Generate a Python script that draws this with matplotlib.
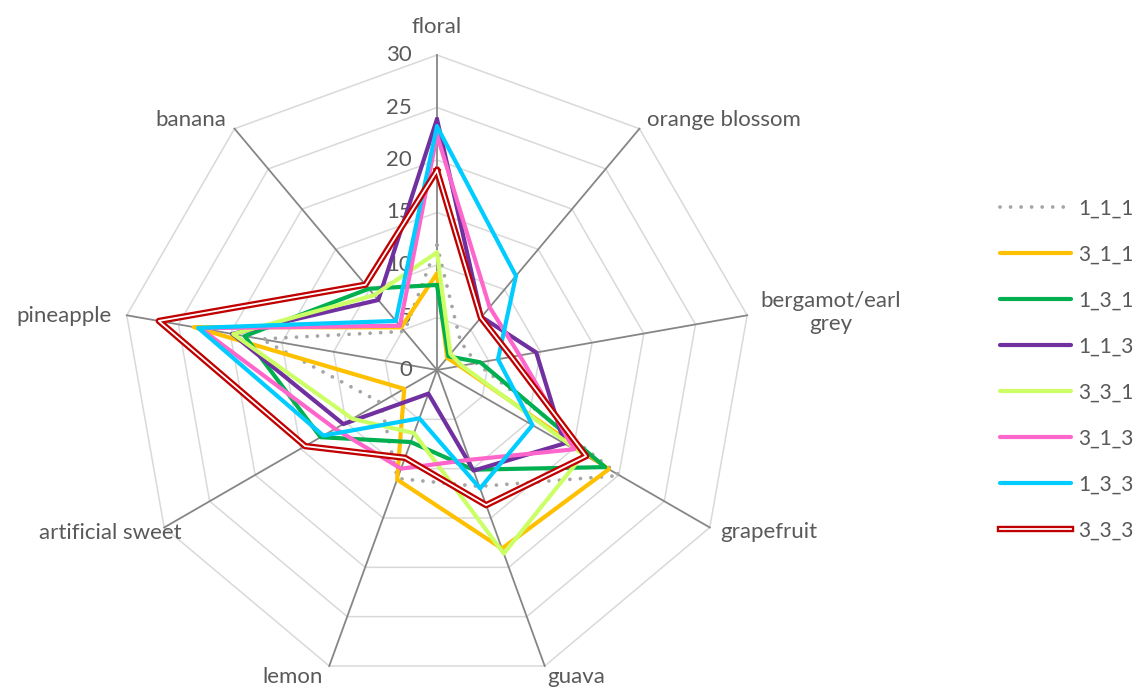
import numpy as np
import matplotlib
matplotlib.use('Agg')
import matplotlib.pyplot as plt
import matplotlib.patheffects as pe
from matplotlib.lines import Line2D

plt.rcParams['font.family'] = ['Lato', 'DejaVu Sans']

# aroma axes, clockwise from the top
categories = ['floral', 'orange blossom', 'bergamot/earl\ngrey', 'grapefruit', 'guava',
              'lemon', 'artificial sweet', 'pineapple', 'banana']

# values (0-30 scale)
s_1_1_1 = [11.9, 3.5, 3.8, 20.1, 11.8, 11.0, 6.2, 17.0, 4.8]
s_3_1_1 = [9.2, 1.5, 2.2, 18.9, 18.1, 11.1, 3.6, 23.5, 5.3]
s_1_3_1 = [8.1, 1.7, 4.2, 18.5, 10.1, 7.3, 12.8, 18.6, 10.1]
s_1_1_3 = [23.9, 6.6, 9.6, 14.0, 10.2, 2.4, 10.3, 19.8, 8.7]
s_3_3_1 = [11.2, 2.0, 2.4, 16.1, 18.6, 6.4, 9.3, 19.7, 9.3]
s_3_1_3 = [22.4, 7.8, 8.0, 15.1, 9.1, 10.0, 11.2, 22.9, 5.5]
s_1_3_3 = [23.2, 11.7, 5.9, 10.5, 12.0, 4.9, 12.5, 23.1, 6.1]
s_3_3_3 = [19.0, 6.5, 7.2, 16.4, 13.7, 8.9, 14.5, 26.9, 10.6]

series_names = ['1_1_1', '3_1_1', '1_3_1', '1_1_3', '3_3_1', '3_1_3', '1_3_3', '3_3_3']
series_values = [s_1_1_1, s_3_1_1, s_1_3_1, s_1_1_3, s_3_3_1, s_3_1_3, s_1_3_3, s_3_3_3]
colors = ['#a5a5a5', '#ffc000', '#00b050', '#7030a0', '#ccff66', '#ff66cc', '#00ccff', '#c00000']

r_ticks = [0, 5, 10, 15, 20, 25, 30]
text_col = '#595959'
fs = 16

fig = plt.figure(figsize=(11.39, 6.89), dpi=100)
ax = fig.add_axes([0.1071, 0.0058, 0.5531, 0.9144], projection='polar')
ax.set_theta_zero_location('N')
ax.set_theta_direction(-1)
ax.set_ylim(0, 30)
ax.grid(False)
ax.spines['polar'].set_visible(False)
ax.set_xticks([])
ax.set_yticks([])

angles = np.deg2rad(np.arange(len(categories)) * 360 / len(categories))
closed = np.append(angles, angles[0])

# polygon grid and spokes
for r in r_ticks[1:]:
    ax.plot(closed, [r] * len(closed), color='#d9d9d9', lw=1.1, zorder=1, clip_on=False)
for a in angles:
    ax.plot([a, a], [0, 30], color='#868686', lw=1.3, zorder=1.5, clip_on=False)

# radial tick labels left of the floral spoke
for v in r_ticks:
    ax.annotate(str(v), xy=(0, v), xytext=(-25, 0), textcoords='offset pixels',
                ha='right', va='center', fontsize=fs, color=text_col)

# category labels (offsets in pixels from the spoke tips)
label_pos = [((0, 28), 'center'), ((8, 9), 'left'), ((13, 3), 'left'),
             ((10, -5), 'left'), ((3, -11), 'left'), ((-6, -11), 'right'),
             ((17, -6), 'right'), ((-15, -1), 'right'), ((-8, 9), 'right')]
for a, name, (off, ha) in zip(angles, categories, label_pos):
    ax.annotate(name, xy=(a, 30), xytext=off, textcoords='offset pixels',
                ha=ha, va='center', fontsize=fs, color=text_col,
                multialignment='center', annotation_clip=False)

handles = []
for i, (name, vals, c) in enumerate(zip(series_names, series_values, colors)):
    vals_c = vals + vals[:1]
    if name == '1_1_1':
        kw = dict(color=c, lw=2.7, linestyle=(0, (0.01, 2.8)), dash_capstyle='round')
    elif name == '3_3_3':
        kw = dict(color='white', lw=1.3,
                  path_effects=[pe.Stroke(linewidth=4.6, foreground=c), pe.Normal()])
    else:
        kw = dict(color=c, lw=3.0, solid_capstyle='round')
    ax.plot(closed, vals_c, zorder=3 + i, clip_on=False, **kw)
    handles.append(Line2D([0], [0], **kw))

fig.legend(handles, series_names, loc='center left',
           bbox_to_anchor=(1000 / 1139, 1 - 369.5 / 689), frameon=False,
           fontsize=15, labelcolor=text_col, handlelength=3.4, handletextpad=0.35,
           labelspacing=1.25, borderpad=0, borderaxespad=0)

fig.savefig('out.png', dpi=100)
